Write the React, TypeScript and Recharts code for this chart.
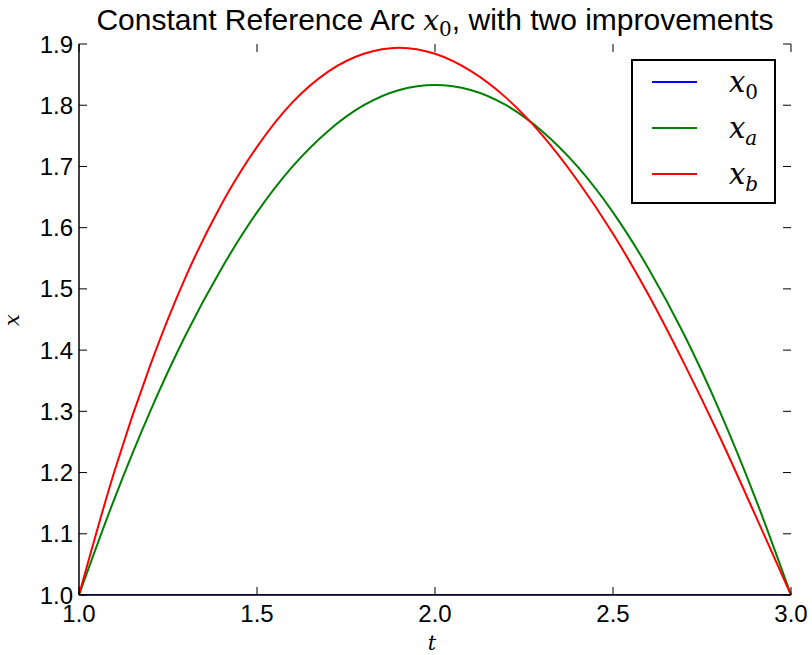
import { LineChart, Line, XAxis, YAxis, Text } from "recharts";

const tValues = [1.0, 1.1, 1.2, 1.3, 1.4, 1.5, 1.6, 1.7, 1.8, 1.9, 2.0, 2.1, 2.2, 2.3, 2.4, 2.5, 2.6, 2.7, 2.8, 2.9, 3.0];
const x0Values = [1, 1, 1, 1, 1, 1, 1, 1, 1, 1, 1, 1, 1, 1, 1, 1, 1, 1, 1, 1, 1];
const xaValues = [1.0, 1.158, 1.3, 1.425, 1.533, 1.625, 1.7, 1.758, 1.8, 1.825, 1.833, 1.825, 1.8, 1.758, 1.7, 1.625, 1.533, 1.425, 1.3, 1.158, 1.0];
const xbValues = [1.0, 1.203, 1.375, 1.52, 1.638, 1.732, 1.805, 1.855, 1.884, 1.894, 1.884, 1.856, 1.812, 1.752, 1.677, 1.59, 1.49, 1.378, 1.258, 1.13, 1.0];

const xTicks = [1.0, 1.5, 2.0, 2.5, 3.0];
const yTicks = [1.0, 1.1, 1.2, 1.3, 1.4, 1.5, 1.6, 1.7, 1.8, 1.9];

const series = [
  { key: "x0", sub: "0", color: "#0000ff" },
  { key: "xa", sub: "a", color: "#008000" },
  { key: "xb", sub: "b", color: "#ff0000" },
];

const data = tValues.map((t, i) => ({
  t,
  x0: x0Values[i],
  xa: xaValues[i],
  xb: xbValues[i],
}));

const W = 812;
const H = 655;
const margin = { top: 44, right: 21, bottom: 20, left: 9 };
const Y_AXIS_W = 70;
const X_AXIS_H = 40;
// edges of the plot frame, following from the layout above
const frame = {
  left: margin.left + Y_AXIS_W,
  right: W - margin.right,
  top: margin.top,
  bottom: H - margin.bottom - X_AXIS_H,
};

const sans = "'Liberation Sans', Arial, sans-serif";
const serif = "'DejaVu Serif', 'Liberation Serif', serif";
const INWARD = 8;

// matplotlib classic: ticks point inward on all four sides, so the bottom
// axis also draws the top marks and the left axis the right ones
const BottomTick = (props: any) => {
  const { x, payload } = props;
  return (
    <g>
      <line x1={x} x2={x} y1={frame.bottom} y2={frame.bottom - INWARD} stroke="#000" />
      <line x1={x} x2={x} y1={frame.top} y2={frame.top + INWARD} stroke="#000" />
      <Text x={x} y={frame.bottom + 10} textAnchor="middle" verticalAnchor="start" fontFamily={sans} fontSize={24} fill="#000">
        {payload.value.toFixed(1)}
      </Text>
    </g>
  );
};

const LeftTick = (props: any) => {
  const { y, payload } = props;
  return (
    <g>
      <line x1={frame.left} x2={frame.left + INWARD} y1={y} y2={y} stroke="#000" />
      <line x1={frame.right} x2={frame.right - INWARD} y1={y} y2={y} stroke="#000" />
      <Text x={frame.left - 6} y={y} textAnchor="end" verticalAnchor="middle" fontFamily={sans} fontSize={24} fill="#000">
        {payload.value.toFixed(1)}
      </Text>
    </g>
  );
};

const MathVar = ({ v, sub, size, subSize, drop }: { v: string; sub?: string; size: number; subSize?: number; drop?: number }) => (
  <span style={{ fontFamily: serif, fontSize: size }}>
    <i>{v}</i>
    {sub && (
      <span
        style={{
          display: "inline-block",
          position: "relative",
          top: drop ?? size * 0.25,
          fontSize: subSize ?? size * 0.7,
          fontStyle: sub === "0" ? "normal" : "italic",
          lineHeight: 1,
        }}
      >
        {sub}
      </span>
    )}
  </span>
);

const axisLine = { stroke: "#000", strokeWidth: 1.5 };

export default function App() {
  return (
    <div style={{ position: "absolute", left: 0, top: 0, width: W, height: H, background: "#fff" }}>
      <LineChart width={W} height={H} data={data} margin={margin}>
        <XAxis
          dataKey="t"
          type="number"
          domain={[1, 3]}
          ticks={xTicks}
          height={X_AXIS_H}
          tickLine={false}
          tick={<BottomTick />}
          axisLine={axisLine}
        />
        <XAxis
          xAxisId="top"
          dataKey="t"
          type="number"
          orientation="top"
          domain={[1, 3]}
          ticks={xTicks}
          height={0}
          tickLine={false}
          tick={false}
          axisLine={axisLine}
        />
        <YAxis
          type="number"
          domain={[1, 1.9]}
          ticks={yTicks}
          width={Y_AXIS_W}
          tickLine={false}
          tick={<LeftTick />}
          axisLine={axisLine}
          allowDataOverflow
        />
        <YAxis
          yAxisId="right"
          type="number"
          orientation="right"
          domain={[1, 1.9]}
          ticks={yTicks}
          width={0}
          tickLine={false}
          tick={false}
          axisLine={axisLine}
          allowDataOverflow
        />
        {series.map((s) => (
          <Line
            key={s.key}
            dataKey={s.key}
            type="monotone"
            stroke={s.color}
            strokeWidth={2}
            dot={false}
            isAnimationActive={false}
          />
        ))}
      </LineChart>

      <div
        style={{
          position: "absolute",
          left: frame.left,
          width: frame.right - frame.left,
          top: 2,
          textAlign: "center",
          fontFamily: sans,
          fontSize: 30,
          lineHeight: "36px",
          whiteSpace: "nowrap",
        }}
      >
        Constant Reference Arc <MathVar v="x" sub="0" size={28} subSize={20} drop={6} />, with two improvements
      </div>

      <div style={{ position: "absolute", left: 417, top: 633, width: 30, height: 22, textAlign: "center", lineHeight: "20px" }}>
        <MathVar v="t" size={21} />
      </div>
      <div
        style={{
          position: "absolute",
          left: -3,
          top: 307,
          width: 30,
          height: 26,
          lineHeight: "26px",
          textAlign: "center",
          transform: "rotate(-90deg)",
        }}
      >
        <MathVar v="x" size={21} />
      </div>

      <div
        style={{
          position: "absolute",
          left: 631,
          top: 59,
          width: 145,
          height: 145,
          boxSizing: "border-box",
          border: "2px solid #000",
          background: "#fff",
        }}
      >
        {series.map((s, i) => (
          <div key={s.key}>
            <div
              style={{ position: "absolute", left: 19, top: 20 + i * 45.8, width: 45, height: 2, background: s.color }}
            />
            <div style={{ position: "absolute", left: 96, top: 4 + i * 45.8, lineHeight: "34px", whiteSpace: "nowrap" }}>
              <MathVar v="x" sub={s.sub} size={29} subSize={20} drop={7} />
            </div>
          </div>
        ))}
      </div>
    </div>
  );
}
